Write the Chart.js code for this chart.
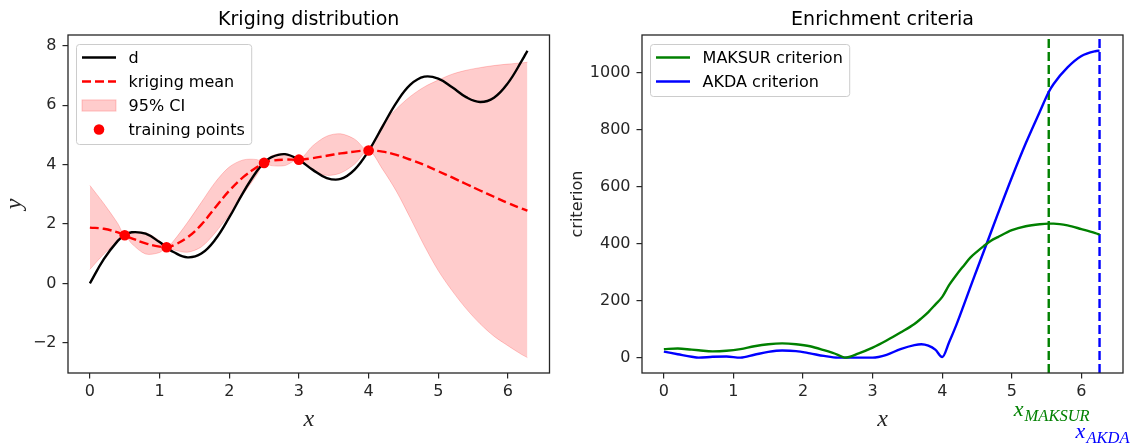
<!DOCTYPE html>
<html>
<head>
<meta charset="utf-8">
<script src="https://cdn.jsdelivr.net/npm/chart.js@4.4.1/dist/chart.umd.min.js"></script>
<style>
	body { margin: 0; background: #fff; }
	#wrap { position: relative; width: 1136px; height: 443px; overflow: hidden; }
	.panel { position: absolute; top: 0; width: 568px; height: 443px; }
	#left { left: 0; }
	#right { left: 568px; }
</style>
</head>
<body>
<div id="wrap">
	<div class="panel" id="left"><canvas id="krig"></canvas></div>
	<div class="panel" id="right"><canvas id="crit"></canvas></div>
</div>
<script>
// left panel: kriging distribution
var gridX  = [0, 0.2, 0.4, 0.5, 0.6, 0.8, 1.0, 1.1, 1.2, 1.4, 1.6, 1.8, 2.0, 2.2, 2.4, 2.5, 2.6, 2.8, 3.0, 3.2, 3.4, 3.6, 3.8, 4.0, 4.2, 4.4, 4.6, 4.8, 5.0, 5.2, 5.4, 5.6, 5.8, 6.0, 6.2, 6.28];
var trueY  = [0, 0.815, 1.432, 1.622, 1.724, 1.675, 1.391, 1.217, 1.057, 0.878, 1.004, 1.477, 2.221, 3.062, 3.794, 4.063, 4.249, 4.355, 4.162, 3.825, 3.550, 3.519, 3.832, 4.463, 5.284, 6.092, 6.694, 6.965, 6.900, 6.607, 6.276, 6.112, 6.258, 6.749, 7.503, 7.84];
var meanY  = [1.88, 1.84, 1.72, 1.62, 1.52, 1.35, 1.24, 1.22, 1.28, 1.55, 1.98, 2.56, 3.12, 3.58, 3.92, 4.06, 4.13, 4.17, 4.17, 4.22, 4.30, 4.38, 4.44, 4.48, 4.44, 4.33, 4.17, 3.99, 3.78, 3.57, 3.35, 3.13, 2.92, 2.71, 2.52, 2.45];
var upperY = [3.30, 2.69, 2.02, 1.62, 1.70, 1.71, 1.44, 1.22, 1.43, 2.05, 2.73, 3.41, 3.92, 4.16, 4.17, 4.06, 4.29, 4.37, 4.17, 4.64, 4.96, 5.04, 4.86, 4.48, 5.35, 5.88, 6.30, 6.62, 6.85, 7.05, 7.18, 7.27, 7.34, 7.39, 7.43, 7.45];
var lowerY = [0.47, 0.99, 1.42, 1.62, 1.34, 0.99, 1.04, 1.22, 1.13, 1.05, 1.23, 1.71, 2.32, 3.00, 3.67, 4.06, 3.97, 3.97, 4.17, 3.80, 3.64, 3.72, 4.02, 4.48, 3.85, 3.10, 2.20, 1.27, 0.43, -0.25, -0.85, -1.36, -1.78, -2.10, -2.40, -2.50];
var trainX = [0.5, 1.1, 2.5, 3.0, 4.0];
var trainY = [1.62, 1.22, 4.06, 4.17, 4.48];

// right panel: enrichment criteria
var critX  = [0, 0.2, 0.4, 0.5, 0.7, 0.9, 1.1, 1.3, 1.5, 1.7, 1.9, 2.1, 2.3, 2.5, 2.6, 2.8, 3.0, 3.2, 3.4, 3.6, 3.7, 3.8, 3.9, 4.0, 4.1, 4.2, 4.3, 4.4, 4.5, 4.6, 4.7, 4.8, 5.0, 5.2, 5.4, 5.53, 5.6, 5.8, 6.0, 6.2, 6.26];
var maksur = [30, 32, 28, 26, 22, 24, 30, 40, 47, 50, 47, 40, 26, 10, 0, 15, 35, 60, 88, 118, 138, 160, 186, 213, 255, 289, 320, 350, 372, 392, 410, 423, 447, 461, 468, 470, 470, 464, 451, 437, 432];
var akda   = [21, 12, 3, 0, 3, 4, 0, 10, 20, 25, 23, 15, 6, 0, 0, 0, 0, 10, 30, 44, 47, 42, 28, 2, 55, 113, 178, 245, 310, 375, 440, 505, 632, 752, 862, 932, 960, 1018, 1058, 1075, 1077];
var optX   = [5.53, 6.26];
var optName = ['MAKSUR', 'AKDA'];

// axes
var xRange = [-0.314, 6.597];
var xTicks = [0, 1, 2, 3, 4, 5, 6];
var krigRange = [-3.02, 8.37];
var krigTicks = [-2, 0, 2, 4, 6, 8];
var critRange = [-53.9, 1131.9];
var critTicks = [0, 200, 400, 600, 800, 1000];

var RED = '#ff0000', GREEN = '#008000', BLUE = '#0000ff', INK = '#262626';
var PINK = 'rgba(255,0,0,0.2)';
var SANS = '"DejaVu Sans", sans-serif';
var SERIF = '"Liberation Serif", "DejaVu Serif", serif';

function pairs(xs, ys) {
	return xs.map(function(x, i) {
		return { x: x, y: ys[i] };
	});
}

function useTicks(list) {
	return function(scale) {
		scale.ticks = list.map(function(v) { return { value: v }; });
	};
}

function numLabel(v) {
	return v < 0 ? '\u2212' + Math.abs(v) : String(v);
}

function axisX(titleText) {
	return {
		type: 'linear',
		min: xRange[0],
		max: xRange[1],
		afterBuildTicks: useTicks(xTicks),
		afterFit: function(scale) { scale.height = 70; },
		grid: { display: true, drawOnChartArea: false, drawTicks: true, tickLength: 5.5, color: INK, lineWidth: 1.2 },
		border: { display: false },
		ticks: { font: { family: SANS, size: 16 }, color: INK, padding: 4, maxRotation: 0, callback: numLabel },
		title: { display: true, text: titleText, font: { family: SERIF, size: 24, style: 'italic' }, color: INK, padding: { top: 0, bottom: 8.6 } }
	};
}

function axisY(range, ticks, width, title) {
	return {
		type: 'linear',
		min: range[0],
		max: range[1],
		afterBuildTicks: useTicks(ticks),
		afterFit: function(scale) { scale.width = width; },
		grid: { display: true, drawOnChartArea: false, drawTicks: true, tickLength: 5.5, color: INK, lineWidth: 1.2 },
		border: { display: false },
		ticks: { font: { family: SANS, size: 16 }, color: INK, padding: 6, callback: numLabel },
		title: title
	};
}

// box around the plot area, like matplotlib spines
var framePlugin = {
	id: 'frame',
	afterDatasetsDraw: function(chart) {
		var a = chart.chartArea;
		var ctx = chart.ctx;
		ctx.save();
		ctx.strokeStyle = INK;
		ctx.lineWidth = 1.3;
		ctx.strokeRect(a.left, a.top, a.right - a.left, a.bottom - a.top);
		ctx.restore();
	}
};

function topTitle(text) {
	return {
		id: 'topTitle',
		afterDraw: function(chart) {
			var a = chart.chartArea;
			var ctx = chart.ctx;
			ctx.save();
			ctx.font = '19px ' + SANS;
			ctx.fillStyle = '#000';
			ctx.textAlign = 'center';
			ctx.textBaseline = 'alphabetic';
			ctx.fillText(text, (a.left + a.right) / 2, a.top - 10);
			ctx.restore();
		}
	};
}

function boxLegend(items) {
	return {
		id: 'boxLegend',
		afterDraw: function(chart) {
			var a = chart.chartArea;
			var ctx = chart.ctx;
			ctx.save();
			ctx.font = '16px ' + SANS;
			var w = 0;
			items.forEach(function(it) {
				w = Math.max(w, ctx.measureText(it.label).width);
			});
			var bx = a.left + 8, by = a.top + 9;
			var bw = 52.6 + w + 6.4, bh = 24 * items.length + 4;
			ctx.beginPath();
			ctx.roundRect(bx + 0.5, by + 0.5, bw, bh, 3);
			ctx.fillStyle = 'rgba(255,255,255,0.8)';
			ctx.fill();
			ctx.strokeStyle = '#cccccc';
			ctx.lineWidth = 1;
			ctx.stroke();
			items.forEach(function(it, i) {
				var cy = by + 13.5 + 24 * i;
				var hx = bx + 6;
				if (it.kind === 'line') {
					ctx.beginPath();
					ctx.setLineDash(it.dash || []);
					ctx.strokeStyle = it.color;
					ctx.lineWidth = 2.4;
					ctx.moveTo(hx, cy);
					ctx.lineTo(hx + 34, cy);
					ctx.stroke();
					ctx.setLineDash([]);
				} else if (it.kind === 'patch') {
					ctx.fillStyle = it.color;
					ctx.fillRect(hx, cy - 5.6, 34, 11.2);
					ctx.strokeStyle = it.color;
					ctx.lineWidth = 1;
					ctx.strokeRect(hx, cy - 5.6, 34, 11.2);
				} else {
					ctx.beginPath();
					ctx.fillStyle = it.color;
					ctx.arc(hx + 17, cy, 5.3, 0, Math.PI * 2);
					ctx.fill();
				}
				ctx.fillStyle = '#000';
				ctx.textAlign = 'left';
				ctx.textBaseline = 'middle';
				ctx.fillText(it.label, bx + 52.6, cy + 1);
			});
			ctx.restore();
		}
	};
}

// x_MAKSUR / x_AKDA under the dashed lines
var optLabels = {
	id: 'optLabels',
	afterDraw: function(chart) {
		var ctx = chart.ctx;
		var xs = chart.scales.x;
		var rows = [416, 438];
		var colors = [GREEN, BLUE];
		ctx.save();
		optX.forEach(function(v, i) {
			var px = xs.getPixelForValue(v) + 3;
			ctx.font = 'italic 22px ' + SERIF;
			var w1 = ctx.measureText('x').width;
			ctx.font = 'italic 16.5px ' + SERIF;
			var w2 = ctx.measureText(optName[i]).width;
			var start = px - (w1 + 1 + w2) / 2;
			ctx.fillStyle = colors[i];
			ctx.textAlign = 'left';
			ctx.textBaseline = 'alphabetic';
			ctx.font = 'italic 22px ' + SERIF;
			ctx.fillText('x', start, rows[i]);
			ctx.font = 'italic 16.5px ' + SERIF;
			ctx.fillText(optName[i], start + w1 + 1, rows[i] + 5);
		});
		ctx.restore();
	}
};

Chart.defaults.animation = false;
Chart.defaults.devicePixelRatio = 1;

var krigChart = new Chart(document.getElementById('krig'), {
	type: 'line',
	data: {
		datasets: [{
			label: 'training points',
			data: pairs(trainX, trainY),
			showLine: false,
			pointRadius: 5.3,
			pointBackgroundColor: RED,
			pointBorderWidth: 0,
			order: 0
		}, {
			label: 'kriging mean',
			data: pairs(gridX, meanY),
			borderColor: RED,
			borderWidth: 2.4,
			borderDash: [9, 4],
			pointRadius: 0,
			tension: 0.4,
			order: 1
		}, {
			label: 'd',
			data: pairs(gridX, trueY),
			borderColor: '#000',
			borderWidth: 2.4,
			pointRadius: 0,
			tension: 0.4,
			order: 2
		}, {
			label: '95% CI',
			data: pairs(gridX, upperY),
			borderColor: PINK,
			backgroundColor: PINK,
			borderWidth: 1,
			fill: '+1',
			pointRadius: 0,
			tension: 0.3,
			order: 3
		}, {
			label: '95% CI lower',
			data: pairs(gridX, lowerY),
			borderColor: PINK,
			borderWidth: 1,
			fill: false,
			pointRadius: 0,
			tension: 0.3,
			order: 4
		}]
	},
	options: {
		responsive: true,
		maintainAspectRatio: false,
		events: [],
		layout: { padding: { top: 35, right: 18.5, left: 0, bottom: 0 } },
		scales: {
			x: axisX('x'),
			y: axisY(krigRange, krigTicks, 68, {
				display: true, text: 'y', color: INK,
				font: { family: SERIF, size: 24, style: 'italic' },
				padding: { top: 0.6, bottom: 0 }
			})
		},
		plugins: { legend: { display: false }, tooltip: { enabled: false } }
	},
	plugins: [framePlugin, topTitle('Kriging distribution'), boxLegend([
		{ label: 'd', kind: 'line', color: '#000' },
		{ label: 'kriging mean', kind: 'line', color: RED, dash: [9, 4] },
		{ label: '95% CI', kind: 'patch', color: PINK },
		{ label: 'training points', kind: 'marker', color: RED }
	])]
});

var critChart = new Chart(document.getElementById('crit'), {
	type: 'line',
	data: {
		datasets: [{
			label: 'MAKSUR criterion',
			data: pairs(critX, maksur),
			borderColor: GREEN,
			borderWidth: 2.4,
			pointRadius: 0,
			cubicInterpolationMode: 'monotone'
		}, {
			label: 'AKDA criterion',
			data: pairs(critX, akda),
			borderColor: BLUE,
			borderWidth: 2.4,
			pointRadius: 0,
			cubicInterpolationMode: 'monotone'
		}, {
			label: 'x MAKSUR',
			data: [{ x: optX[0], y: critRange[0] }, { x: optX[0], y: critRange[1] }],
			borderColor: GREEN,
			borderWidth: 2.4,
			borderDash: [9, 4],
			pointRadius: 0
		}, {
			label: 'x AKDA',
			data: [{ x: optX[1], y: critRange[0] }, { x: optX[1], y: critRange[1] }],
			borderColor: BLUE,
			borderWidth: 2.4,
			borderDash: [9, 4],
			pointRadius: 0
		}]
	},
	options: {
		responsive: true,
		maintainAspectRatio: false,
		events: [],
		layout: { padding: { top: 35, right: 13, left: 0, bottom: 0 } },
		scales: {
			x: axisX('x'),
			y: axisY(critRange, critTicks, 74, {
				display: true, text: 'criterion', color: INK,
				font: { family: SANS, size: 16 },
				padding: { top: 0, bottom: 0 }
			})
		},
		plugins: { legend: { display: false }, tooltip: { enabled: false } }
	},
	plugins: [framePlugin, topTitle('Enrichment criteria'), optLabels, boxLegend([
		{ label: 'MAKSUR criterion', kind: 'line', color: GREEN },
		{ label: 'AKDA criterion', kind: 'line', color: BLUE }
	])]
});
</script>
</body>
</html>
